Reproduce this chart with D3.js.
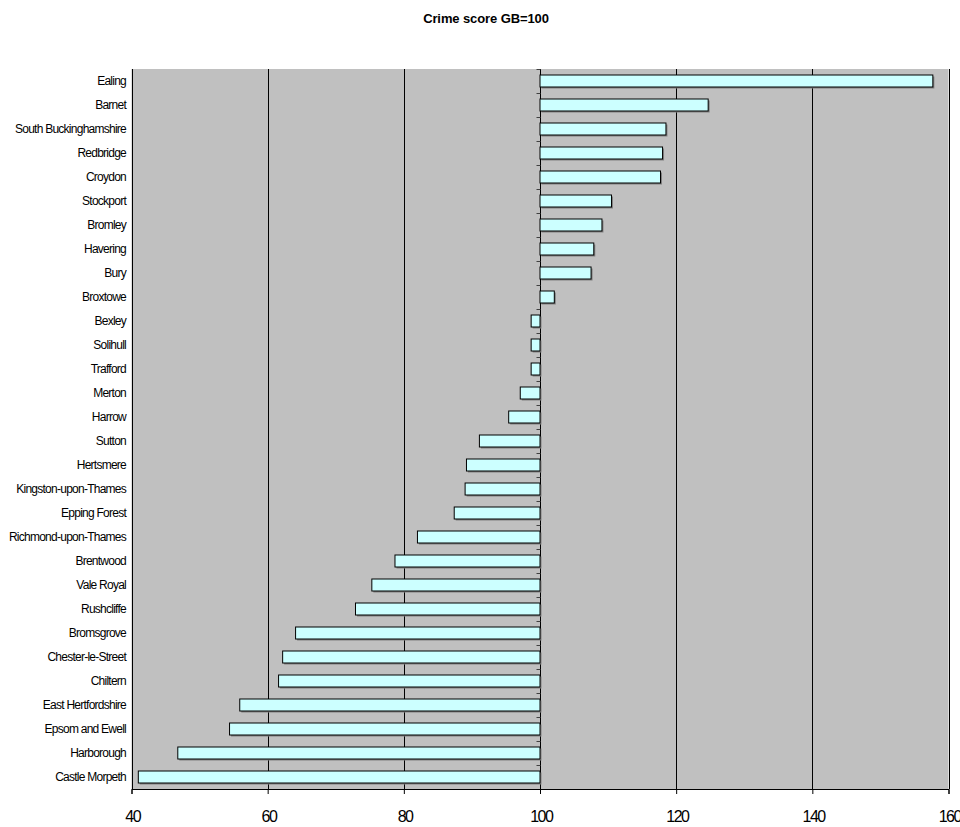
<!DOCTYPE html>
<html><head><meta charset="utf-8">
<script src="https://cdn.jsdelivr.net/npm/d3@7"></script>
<style>body{margin:0;background:#fff;} text{font-family:"Liberation Sans",Arial,sans-serif;}</style>
</head><body>
<svg id="c" width="960" height="827"></svg>
<script>
const categories = ["Ealing","Barnet","South Buckinghamshire","Redbridge","Croydon","Stockport","Bromley","Havering","Bury","Broxtowe","Bexley","Solihull","Trafford","Merton","Harrow","Sutton","Hertsmere","Kingston-upon-Thames","Epping Forest","Richmond-upon-Thames","Brentwood","Vale Royal","Rushcliffe","Bromsgrove","Chester-le-Street","Chiltern","East Hertfordshire","Epsom and Ewell","Harborough","Castle Morpeth"];
const values = [157.7,124.7,118.5,118.0,117.7,110.5,109.1,107.9,107.5,102.1,98.7,98.7,98.7,97.1,95.4,91.1,89.2,89.0,87.4,82.0,78.7,75.3,72.9,64.1,62.2,61.6,55.9,54.4,46.8,41.0];
const xTicks = [40,60,80,100,120,140,160];
const baseline = 100;
const title = "Crime score GB=100";

const svg = d3.select("#c");
const L = 131.5, R = 948.5, T = 69, B = 789;
const x = d3.scaleLinear().domain([40,160]).range([L,R]);
const y = d3.scaleBand().domain(categories).range([T,B]).paddingInner(0.5).paddingOuter(0.25);

svg.append("rect").attr("x",L).attr("y",T).attr("width",R-L).attr("height",B-T).attr("fill","#c0c0c0");

// gridlines
svg.append("g").selectAll("line").data(xTicks).join("line")
  .attr("x1",d=>Math.round(x(d))+0.5).attr("x2",d=>Math.round(x(d))+0.5)
  .attr("y1",T).attr("y2",B).attr("stroke","#000").attr("stroke-width",1);

// bars
const g = svg.append("g");
categories.forEach((c,i)=>{
  const v = values[i];
  const x0 = Math.min(x(v), x(baseline)), w = Math.abs(x(v)-x(baseline));
  g.append("rect").attr("x",x0+1.5).attr("y",y(c)+1.5).attr("width",w).attr("height",y.bandwidth())
    .attr("fill","#808080");
  g.append("rect").attr("x",x0).attr("y",y(c)).attr("width",w).attr("height",y.bandwidth())
    .attr("fill","#ccffff").attr("stroke","#000").attr("stroke-width",1);
});

// category axis ticks at 100
const ax = Math.round(x(baseline))+0.5;
const bounds = d3.range(categories.length+1).map(i=>T+i*(B-T)/categories.length);
svg.append("g").selectAll("line").data(bounds).join("line")
  .attr("x1",ax-4).attr("x2",ax).attr("y1",d=>Math.round(d)+0.5).attr("y2",d=>Math.round(d)+0.5)
  .attr("stroke","#404040");

// category labels
svg.append("g").selectAll("text").data(categories).join("text")
  .attr("x",126).attr("y",d=>y(d)+y.bandwidth()/2).attr("dy","0.35em")
  .attr("text-anchor","end").attr("font-size",12).attr("letter-spacing","-0.75px")
  .text(d=>d);

// bottom axis
const xAxis = svg.append("g").attr("transform",`translate(0,${B})`)
  .call(d3.axisBottom(x).tickValues(xTicks).tickSize(5).tickPadding(20).tickFormat(d3.format("d")));
xAxis.select(".domain").attr("stroke","#000");
xAxis.selectAll("line").attr("stroke","#000");
xAxis.selectAll("text").attr("font-size",16).attr("fill","#000").attr("letter-spacing","-1.5px")
  .attr("dy","0").attr("y",33).attr("dx","0.75px")
  .attr("font-family","'Liberation Sans',Arial,sans-serif");

svg.append("text").attr("x",486).attr("y",22.5).attr("text-anchor","middle")
  .attr("font-size",13).attr("font-weight","bold").attr("letter-spacing","-0.1px").text(title);
</script>
</body></html>
